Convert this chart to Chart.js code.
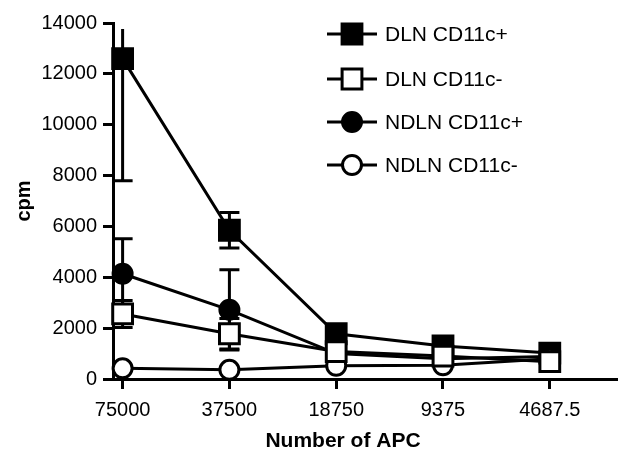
<!DOCTYPE html>
<html>
<head>
<meta charset="utf-8">
<script src="https://cdn.jsdelivr.net/npm/chart.js@4.4.1/dist/chart.umd.min.js"></script>
<style>
  html, body { margin: 0; padding: 0; background: #fff; }
  #wrap { width: 633px; height: 460px; }
</style>
</head>
<body>
<div id="wrap"><canvas id="lineChart" width="633" height="460"></canvas></div>
<script>
// categories (number of APC per well)
var apcLabels = ["75000", "37500", "18750", "9375", "4687.5"];

// mean cpm per group
var dlnPos = [12600, 5850, 1780, 1300, 1020];
var dlnNeg = [2560, 1780, 1080, 900, 680];
var ndlnPos = [4140, 2720, 1000, 800, 880];
var ndlnNeg = [420, 360, 520, 540, 800];

// SEM per group
var dlnPosErr = [4800, 700, 150, 120, 100];
var dlnNegErr = [530, 600, 150, 120, 80];
var ndlnPosErr = [1380, 1580, 150, 100, 100];
var ndlnNegErr = [60, 50, 60, 60, 50];

// y axis ticks
var yTicks = [0, 2000, 4000, 6000, 8000, 10000, 12000, 14000];

function toPoints(arr) {
  return arr.map(function(v, i) { return { x: i, y: v }; });
}

function makeSet(label, values, errs, style, filled, radius, order) {
  return {
    label: label,
    data: toPoints(values),
    errors: errs,
    borderColor: "#000",
    borderWidth: 3,
    pointStyle: style,
    pointRadius: radius,
    pointHoverRadius: radius,
    pointBorderWidth: 3,
    pointBorderColor: "#000",
    pointBackgroundColor: filled ? "#000" : "#fff",
    backgroundColor: filled ? "#000" : "#fff",
    fill: false,
    tension: 0,
    order: order,
    clip: false
  };
}

// error bars go under the markers
var errorBars = {
  id: "errorBars",
  beforeDatasetsDraw: function(chart) {
    var ctx = chart.ctx, xs = chart.scales.x, ys = chart.scales.y, area = chart.chartArea;
    ctx.save();
    ctx.strokeStyle = "#000";
    ctx.lineWidth = 3;
    chart.data.datasets.forEach(function(ds) {
      ds.data.forEach(function(p, i) {
        var e = ds.errors[i];
        var x = xs.getPixelForValue(p.x);
        var top = ys.getPixelForValue(p.y + e);
        var bot = ys.getPixelForValue(p.y - e);
        var clipped = top < area.top + 6;
        if (clipped) top = area.top + 6;
        ctx.beginPath();
        ctx.moveTo(x, top);
        ctx.lineTo(x, bot);
        if (!clipped) { ctx.moveTo(x - 10, top); ctx.lineTo(x + 10, top); }
        ctx.moveTo(x - 10, bot);
        ctx.lineTo(x + 10, bot);
        ctx.stroke();
      });
    });
    ctx.restore();
  }
};

function drawMarker(ctx, style, filled, x, y, r) {
  ctx.beginPath();
  if (style === "rect") {
    var s = Math.SQRT1_2 * r;
    ctx.rect(x - s, y - s, 2 * s, 2 * s);
  } else {
    ctx.arc(x, y, r, 0, Math.PI * 2);
  }
  ctx.fillStyle = filled ? "#000" : "#fff";
  ctx.fill();
  ctx.lineWidth = 3;
  ctx.strokeStyle = "#000";
  ctx.stroke();
}

// legend box top right + x axis title
var extras = {
  id: "extras",
  afterDraw: function(chart) {
    var ctx = chart.ctx;
    ctx.save();
    var rowsY = [34, 79, 122, 165];
    chart.data.datasets.forEach(function(ds, i) {
      var y = rowsY[i];
      ctx.strokeStyle = "#000";
      ctx.lineWidth = 3;
      ctx.beginPath();
      ctx.moveTo(327, y);
      ctx.lineTo(377, y);
      ctx.stroke();
      drawMarker(ctx, ds.pointStyle, ds.pointBackgroundColor === "#000", 352, y, ds.pointRadius);
      ctx.fillStyle = "#000";
      ctx.font = "21px 'Liberation Sans', Arial, sans-serif";
      ctx.textAlign = "left";
      ctx.textBaseline = "middle";
      ctx.fillText(ds.label, 385, y + 1);
    });
    ctx.font = "bold 21px 'Liberation Sans', Arial, sans-serif";
    ctx.textAlign = "center";
    ctx.textBaseline = "middle";
    ctx.fillText("Number of APC", 343, 441);
    ctx.restore();
  }
};

var data = {
  datasets: [
    makeSet("DLN CD11c+", dlnPos, dlnPosErr, "rect", true, 14, 4),
    makeSet("DLN CD11c-", dlnNeg, dlnNegErr, "rect", false, 14, 1),
    makeSet("NDLN CD11c+", ndlnPos, ndlnPosErr, "circle", true, 9.5, 3),
    makeSet("NDLN CD11c-", ndlnNeg, ndlnNegErr, "circle", false, 9.5, 2)
  ]
};

var tickFont = { family: "'Liberation Sans', Arial, sans-serif", size: 20 };

var config = {
  type: "line",
  data: data,
  options: {
    responsive: false,
    animation: false,
    layout: { padding: { top: 23, right: 5, bottom: 0, left: 0 } },
    plugins: { legend: { display: false }, tooltip: { enabled: false } },
    scales: {
      x: {
        type: "linear",
        min: -0.09,
        max: 4.62,
        afterBuildTicks: function(s) {
          s.ticks = apcLabels.map(function(l, i) { return { value: i }; });
        },
        afterFit: function(s) { s.height = 81; },
        ticks: {
          color: "#000",
          font: tickFont,
          padding: 9,
          maxRotation: 0,
          autoSkip: false,
          callback: function(v) { return apcLabels[v]; }
        },
        grid: { drawOnChartArea: false, color: "#000", lineWidth: 3, tickLength: 10 },
        border: { color: "#000", width: 3 }
      },
      y: {
        min: 0,
        max: 14000,
        afterBuildTicks: function(s) {
          s.ticks = yTicks.map(function(v) { return { value: v }; });
        },
        afterFit: function(s) { s.width = 113; },
        ticks: {
          color: "#000",
          font: tickFont,
          padding: 6,
          callback: function(v) { return String(v); }
        },
        grid: { drawOnChartArea: false, color: "#000", lineWidth: 3, tickLength: 10 },
        border: { color: "#000", width: 3 },
        title: {
          display: true,
          text: "cpm",
          color: "#000",
          font: { family: "'Liberation Sans', Arial, sans-serif", size: 20, weight: "bold" },
          padding: { top: 12, bottom: 0 }
        }
      }
    }
  },
  plugins: [errorBars, extras]
};

var ctx = document.getElementById("lineChart").getContext("2d");
new Chart(ctx, config);
</script>
</body>
</html>
